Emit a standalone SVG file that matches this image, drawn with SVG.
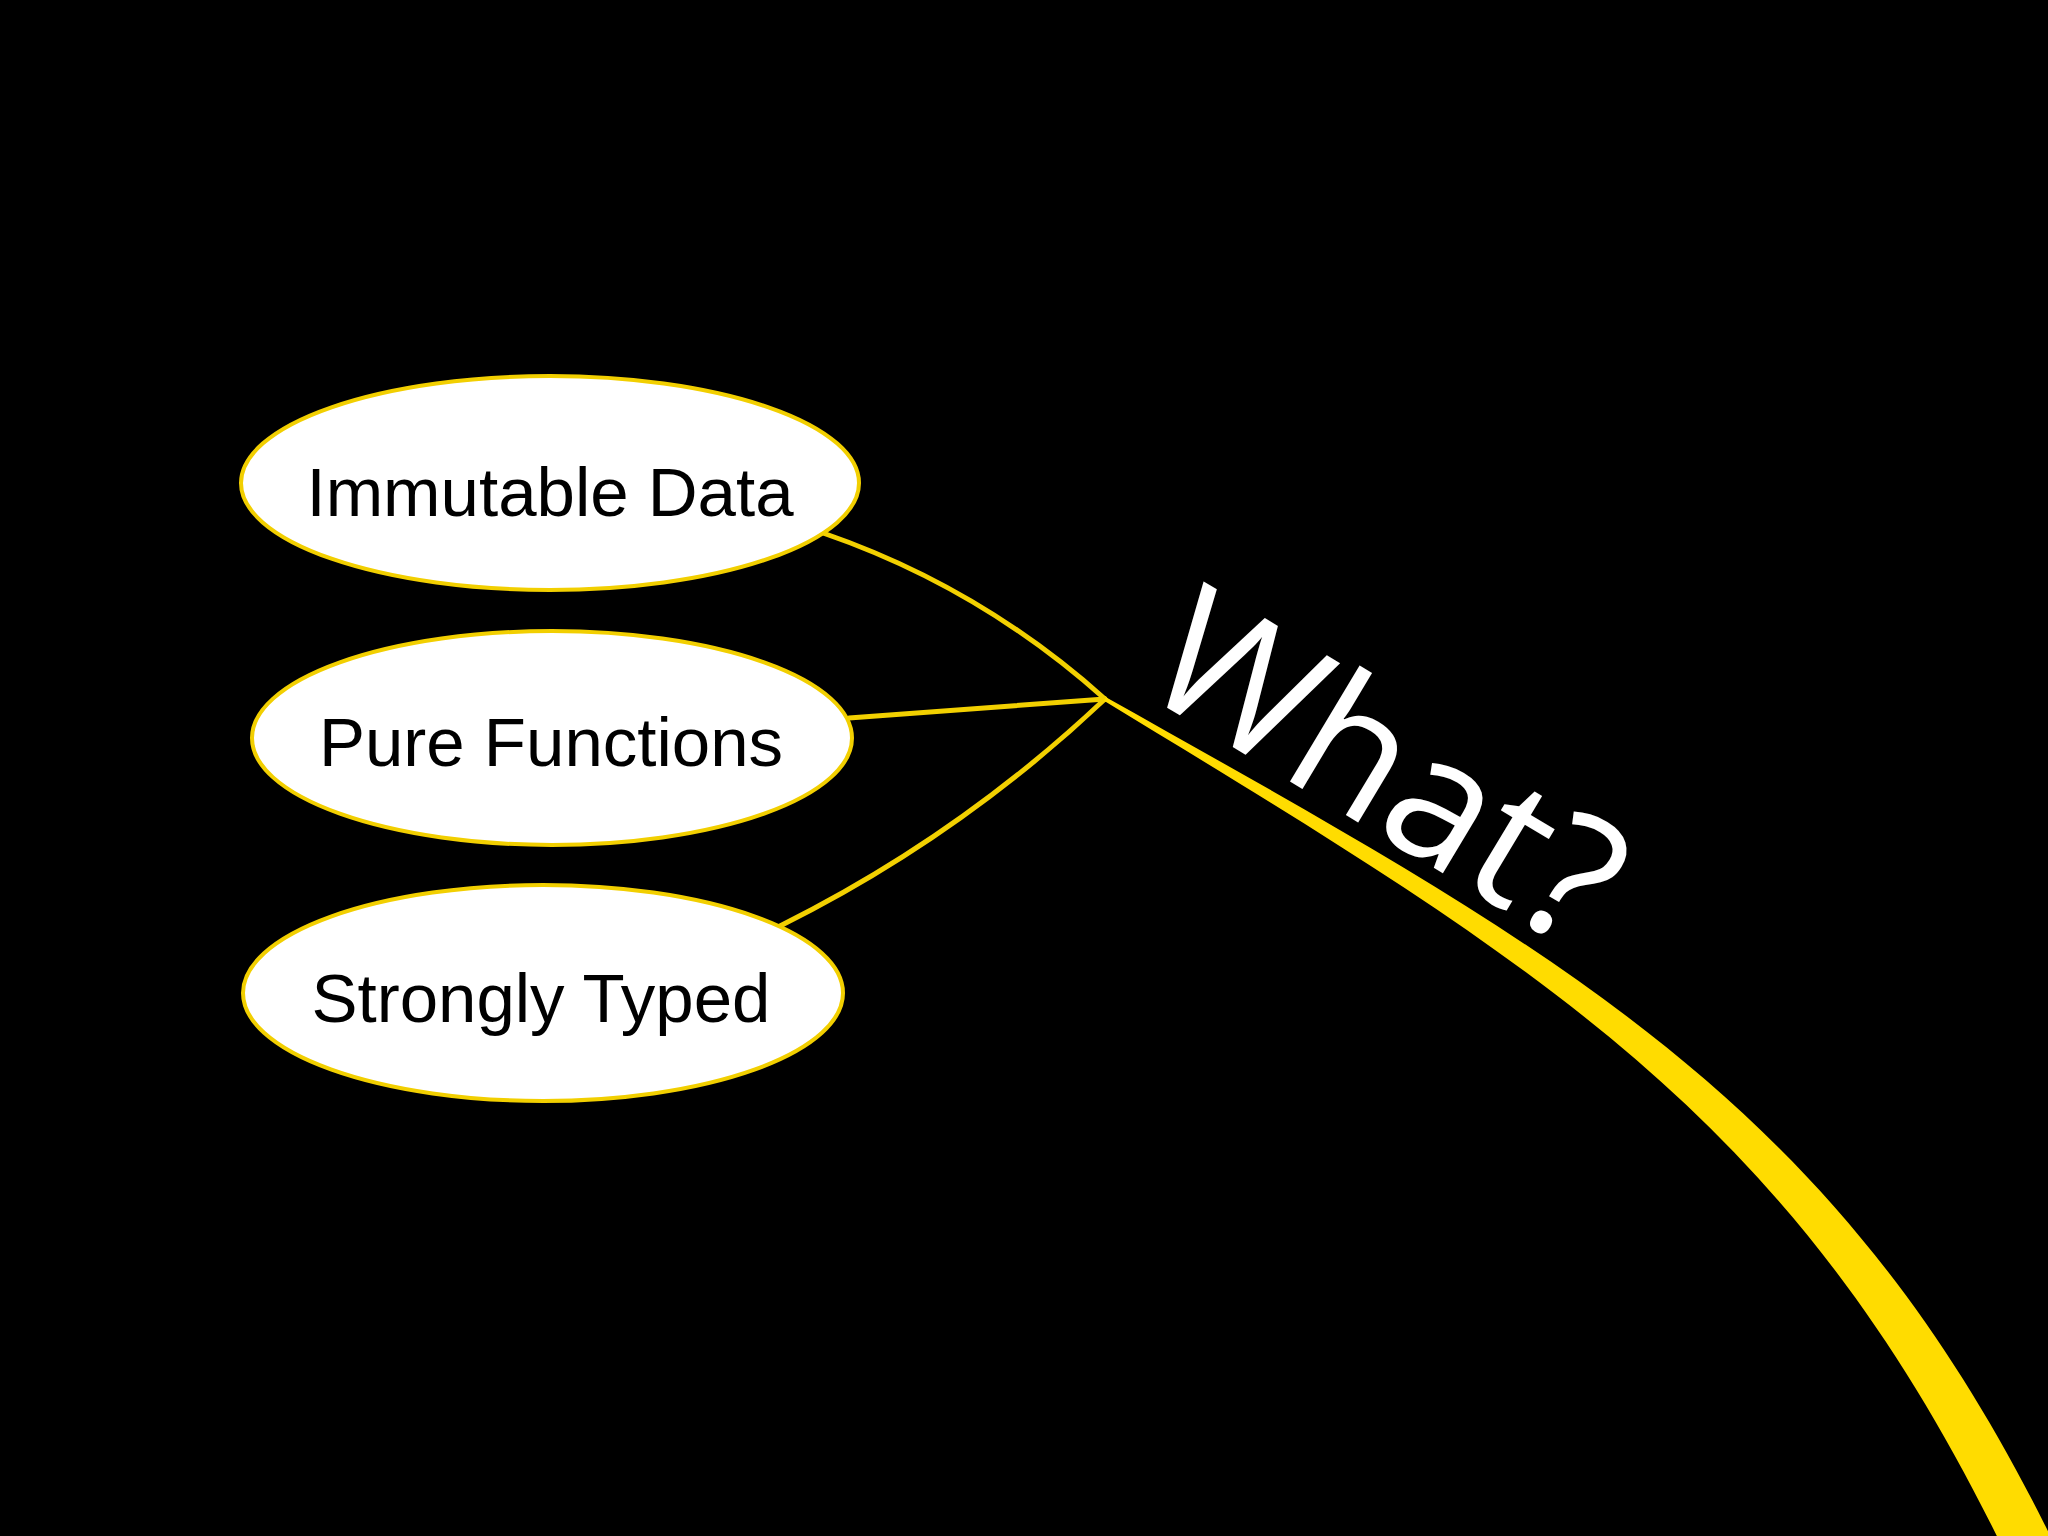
<svg xmlns="http://www.w3.org/2000/svg" width="2048" height="1536" viewBox="0 0 2048 1536">
  <style>
    .node ellipse { fill: #ffffff; stroke: #f2cf00; stroke-width: 4; }
    .node text { font-family: "Liberation Sans", Arial, sans-serif; font-size: 69px; fill: #000000; text-anchor: middle; }
    .conn { fill: none; stroke: #f2d000; stroke-width: 5; stroke-linecap: round; }
    .trunk { fill: #ffdc00; stroke: none; }
    .title { font-family: "Open Sans", "DejaVu Sans", sans-serif; font-size: 178px; fill: #ffffff; }
  </style>
  <rect x="0" y="0" width="2048" height="1536" fill="#000000"/>

  <g id="connectors">
    <path class="conn" d="M823,533 Q980,587 1105,699"/>
    <path class="conn" d="M849,718 L1105,699"/>
    <path class="conn" d="M780,926 Q959,837 1105,699"/>
    <path class="trunk" d="M1106,697.3 C1559.4,952.1 1834.8,1098.4 2049.6,1534.5 L2065,1570 L2006.4,1555.5 C1795.2,1117.6 1548.2,971.1 1104,700.7 Z"/>
  </g>

  <g id="node-immutable-data" class="node">
    <ellipse cx="550" cy="483" rx="309" ry="107"/>
    <text x="550" y="516">Immutable Data</text>
  </g>
  <g id="node-pure-functions" class="node">
    <ellipse cx="552" cy="738" rx="300" ry="107"/>
    <text x="551" y="766">Pure Functions</text>
  </g>
  <g id="node-strongly-typed" class="node">
    <ellipse cx="543" cy="993" rx="300" ry="108"/>
    <text x="541" y="1022">Strongly Typed</text>
  </g>

  <g id="label-what">
    <text class="title" transform="translate(1136,689) rotate(31)">What?</text>
  </g>
</svg>
